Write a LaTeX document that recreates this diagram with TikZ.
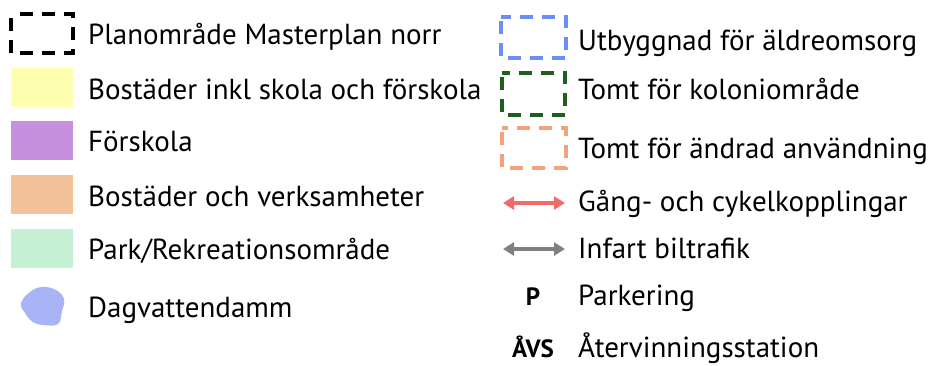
\documentclass[tikz,border=0pt]{standalone}
\usepackage{fontspec}
\setmainfont{PT Sans}
\usetikzlibrary{arrows.meta}

\definecolor{solyellow}{HTML}{FEFEB0}
\definecolor{solpurple}{HTML}{C690DE}
\definecolor{solorange}{HTML}{F3C298}
\definecolor{solgreen}{HTML}{C6F0D4}
\definecolor{solpond}{HTML}{A9B4F7}
\definecolor{lineblue}{HTML}{6B8EF5}
\definecolor{linegreen}{HTML}{1F5E1F}
\definecolor{lineorange}{HTML}{F4A27A}
\definecolor{arrowred}{HTML}{F26A6A}
\definecolor{arrowgray}{HTML}{808080}

\begin{document}
\begin{tikzpicture}[x=1pt, y=-1pt,
  every node/.style = {font=\fontsize{29}{33}\selectfont, inner sep=0pt},
  label/.style = {anchor=base west},
  fillbox/.style = {fill=#1, draw=none},
  dashbox/.style = {draw=#1, line width=3.5pt, dash pattern=on 13pt off 9pt, dash phase=-4pt},
  twoway/.style = {draw=#1, line width=3.5pt, {Triangle[length=11pt,width=13pt]}-{Triangle[length=11pt,width=13pt]}}]
  \useasboundingbox (0,0) rectangle (943,365);

  % left column
  \draw[dashbox=black] (11,14) rectangle (73,53);
  \node[label] (plan) at (88,44) {Planområde Masterplan norr};
  \fill[solyellow] (11,68) rectangle (73,107);
  \node[label] (bost) at (88,99) {Bostäder inkl skola och förskola};
  \fill[solpurple] (11,121) rectangle (73,160);
  \node[label] (fors) at (88,151) {Förskola};
  \fill[solorange] (11,175) rectangle (73,214);
  \node[label] (verk) at (88,206) {Bostäder och verksamheter};
  \fill[solgreen] (11,229) rectangle (73,268);
  \node[label] (park) at (88,259) {Park/Rekreationsområde};
  \fill[solpond] plot[smooth cycle, tension=0.7] coordinates
    {(21,303) (30,292) (42,287) (56,290) (64,299) (62,311) (58,324) (44,325) (33,322) (25,313)};
  \node[label] (damm) at (88,317) {Dagvattendamm};

  % right column
  \draw[dashbox=lineblue] (501,17) rectangle (566,58);
  \node[label] (aldre) at (578,50) {Utbyggnad för äldreomsorg};
  \draw[dashbox=linegreen] (502,73) rectangle (565,115);
  \node[label] (kolo) at (578,99) {Tomt för koloniområde};
  \draw[dashbox=lineorange] (502,128) rectangle (566,168);
  \node[label] (andr) at (578,158) {Tomt för ändrad användning};
  \coordinate (g1) at (503,203);
  \coordinate (g2) at (565,203);
  \draw[twoway=arrowred] (g1) -- (g2);
  \node[label] (gang) at (578,211) {Gång- och cykelkopplingar};
  \coordinate (b1) at (503,249);
  \coordinate (b2) at (565,249);
  \draw[twoway=arrowgray] (b1) -- (b2);
  \node[label] (bil) at (578,258) {Infart biltrafik};
  \node[anchor=base, font=\fontsize{25}{29}\selectfont\bfseries] (p) at (533,305) {P};
  \node[label] (parke) at (578,305) {Parkering};
  \node[anchor=base, font=\fontsize{25}{29}\selectfont\bfseries] (avs) at (533,357) {ÅVS};
  \node[label] (atv) at (578,357) {Återvinningsstation};
\end{tikzpicture}
\end{document}
